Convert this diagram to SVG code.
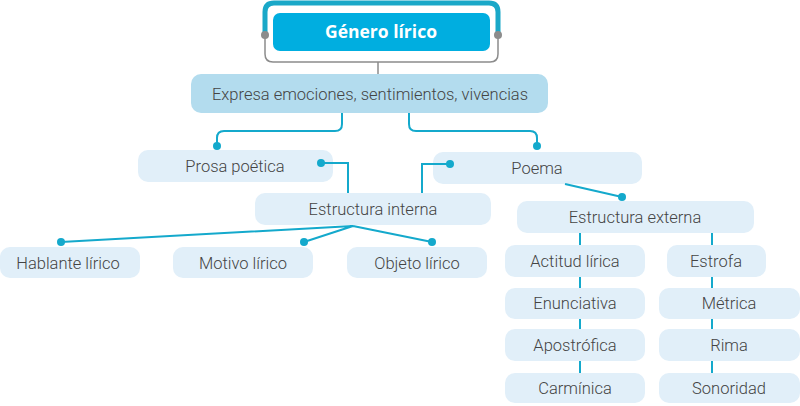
<svg xmlns="http://www.w3.org/2000/svg" width="800" height="406" viewBox="0 0 800 406">
<style>
.box{fill:#e1eff9}
.t{font-family:Roboto,"Open Sans",sans-serif;font-size:16.5px;font-weight:300;fill:#444444;text-anchor:middle}
.c{fill:none;stroke:#14a9cc;stroke-width:2}
.d{fill:#14a9cc}
</style>
<rect width="800" height="406" fill="#ffffff"/>
<g id="bracket">
<path d="M265,35 V12 Q265,3 274,3 H489 Q498,3 498,12 V35" fill="none" stroke="#1aa8c8" stroke-width="5"/>
<path d="M265,35 V54 Q265,62 273,62 H490 Q498,62 498,54 V35 M378,62 V74" fill="none" stroke="#8c8c8c" stroke-width="1.5"/>
<circle cx="265" cy="35" r="4" fill="#8c8c8c"/>
<circle cx="498" cy="35" r="4" fill="#8c8c8c"/>
</g>
<g id="genero">
<rect x="273" y="13" width="217" height="38" rx="7" fill="#00aee0"/>
<text x="381" y="38" style="font-family:'Open Sans',sans-serif;font-size:17.5px;font-weight:bold;fill:#ffffff;text-anchor:middle">Género lírico</text>
</g>
<g id="expresa">
<rect x="191" y="74" width="357" height="39" rx="10" fill="#b3dcee"/>
<text class="t" x="370" y="100">Expresa emociones, sentimientos, vivencias</text>
</g>
<g id="prosa">
<rect class="box" x="138" y="150" width="195" height="32" rx="10"/>
<text class="t" x="235" y="172">Prosa poética</text>
</g>
<g id="poema">
<rect class="box" x="433" y="152" width="209" height="32" rx="10"/>
<text class="t" x="537" y="174">Poema</text>
</g>
<g id="interna">
<rect class="box" x="255" y="193" width="236" height="32" rx="10"/>
<text class="t" x="373" y="215">Estructura interna</text>
</g>
<g id="externa">
<rect class="box" x="517" y="201" width="237" height="32" rx="10"/>
<text class="t" x="635" y="223">Estructura externa</text>
</g>
<g id="hablante">
<rect class="box" x="0" y="247" width="140" height="31" rx="10"/>
<text class="t" x="68" y="269">Hablante lírico</text>
</g>
<g id="motivo">
<rect class="box" x="173" y="247" width="140" height="31" rx="10"/>
<text class="t" x="243" y="269">Motivo lírico</text>
</g>
<g id="objeto">
<rect class="box" x="347" y="247" width="140" height="31" rx="10"/>
<text class="t" x="417" y="269">Objeto lírico</text>
</g>
<g id="actitud">
<rect class="box" x="505" y="245" width="140" height="32" rx="10"/>
<text class="t" x="575" y="267">Actitud lírica</text>
</g>
<g id="enunciativa">
<rect class="box" x="505" y="288" width="140" height="31" rx="10"/>
<text class="t" x="575" y="309">Enunciativa</text>
</g>
<g id="apostrofica">
<rect class="box" x="505" y="329" width="140" height="32" rx="10"/>
<text class="t" x="575" y="351">Apostrófica</text>
</g>
<g id="carminica">
<rect class="box" x="505" y="373" width="140" height="30" rx="10"/>
<text class="t" x="575" y="394">Carmínica</text>
</g>
<g id="estrofa">
<rect class="box" x="667" y="245" width="99" height="32" rx="10"/>
<text class="t" x="716" y="267">Estrofa</text>
</g>
<g id="metrica">
<rect class="box" x="659" y="288" width="141" height="31" rx="10"/>
<text class="t" x="729" y="309">Métrica</text>
</g>
<g id="rima">
<rect class="box" x="659" y="329" width="141" height="32" rx="10"/>
<text class="t" x="729" y="351">Rima</text>
</g>
<g id="sonoridad">
<rect class="box" x="659" y="373" width="141" height="30" rx="10"/>
<text class="t" x="729" y="394">Sonoridad</text>
</g>
<g id="connectors">
<path class="c" d="M342,113 V124 Q342,131 335,131 H224 Q217,131 217,138 V146"/>
<path class="c" d="M409,113 V124 Q409,131 416,131 H530 Q537,131 537,138 V146"/>
<path class="c" d="M321,163 H348 V193"/>
<path class="c" d="M450,164 H422 V193"/>
<path class="c" d="M565,184 L622,197"/>
<path class="c" d="M353,226 L61,242 M353,226 L304,242 M353,226 L432,242"/>
<path class="c" d="M580,233 V245 M580,277 V288 M580,319 V329 M580,361 V373 M712,233 V245 M712,277 V288 M712,319 V329 M712,361 V373"/>
<circle class="d" cx="217" cy="146" r="4"/>
<circle class="d" cx="537" cy="146" r="4"/>
<circle class="d" cx="321" cy="163" r="4"/>
<circle class="d" cx="450" cy="164" r="4"/>
<circle class="d" cx="622" cy="197" r="4"/>
<circle class="d" cx="61" cy="242" r="4"/>
<circle class="d" cx="304" cy="242" r="4"/>
<circle class="d" cx="432" cy="242" r="4"/>
</g>
</svg>
